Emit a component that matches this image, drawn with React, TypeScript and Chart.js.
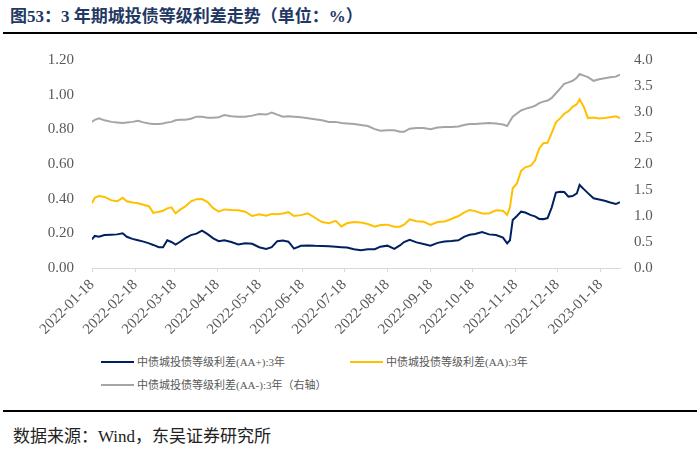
import React, { useEffect, useRef } from "react";
import { Chart, registerables } from "chart.js";

Chart.register(...registerables);

const dates = [
  "2022-01-18", "2022-01-20", "2022-01-23", "2022-01-27", "2022-02-01", "2022-02-05", "2022-02-09", "2022-02-12",
  "2022-02-16", "2022-02-20", "2022-02-24", "2022-02-28", "2022-03-03", "2022-03-07", "2022-03-10", "2022-03-13",
  "2022-03-16", "2022-03-19", "2022-03-22", "2022-03-26", "2022-03-30", "2022-04-03", "2022-04-07", "2022-04-11",
  "2022-04-15", "2022-04-19", "2022-04-23", "2022-04-28", "2022-05-03", "2022-05-08", "2022-05-13", "2022-05-18",
  "2022-05-23", "2022-05-27", "2022-05-31", "2022-06-04", "2022-06-08", "2022-06-12", "2022-06-17", "2022-06-22",
  "2022-06-27", "2022-07-02", "2022-07-07", "2022-07-12", "2022-07-16", "2022-07-20", "2022-07-25", "2022-07-30",
  "2022-08-04", "2022-08-09", "2022-08-13", "2022-08-18", "2022-08-23", "2022-08-27", "2022-08-30", "2022-09-03",
  "2022-09-08", "2022-09-13", "2022-09-18", "2022-09-23", "2022-09-28", "2022-10-03", "2022-10-08", "2022-10-12",
  "2022-10-16", "2022-10-20", "2022-10-25", "2022-10-30", "2022-11-04", "2022-11-09", "2022-11-12", "2022-11-14",
  "2022-11-16", "2022-11-19", "2022-11-22", "2022-11-25", "2022-11-29", "2022-12-02", "2022-12-05", "2022-12-08",
  "2022-12-11", "2022-12-14", "2022-12-17", "2022-12-20", "2022-12-23", "2022-12-26", "2022-12-29", "2023-01-01",
  "2023-01-03", "2023-01-06", "2023-01-09", "2023-01-13", "2023-01-17", "2023-01-21", "2023-01-25", "2023-01-29",
  "2023-02-01",
];

// 中债城投债等级利差(AA+):3年 (left axis)
const aaPlus = [
  0.165, 0.185, 0.18, 0.19, 0.192, 0.194, 0.2, 0.18,
  0.168, 0.16, 0.152, 0.142, 0.133, 0.12, 0.12, 0.16,
  0.15, 0.135, 0.15, 0.172, 0.19, 0.198, 0.215, 0.195,
  0.171, 0.155, 0.16, 0.15, 0.136, 0.143, 0.14, 0.12,
  0.11, 0.12, 0.155, 0.158, 0.152, 0.112, 0.128, 0.13,
  0.128, 0.127, 0.125, 0.122, 0.12, 0.118, 0.108, 0.102,
  0.108, 0.108, 0.123, 0.129, 0.11, 0.13, 0.15, 0.163,
  0.148, 0.138, 0.129, 0.145, 0.153, 0.156, 0.16, 0.18,
  0.192, 0.196, 0.208, 0.194, 0.19, 0.175, 0.142, 0.16,
  0.277, 0.3, 0.325, 0.32, 0.305, 0.298, 0.283, 0.282,
  0.288, 0.35, 0.435, 0.44, 0.438, 0.412, 0.415, 0.43,
  0.479, 0.455, 0.432, 0.402, 0.395, 0.388, 0.378, 0.369,
  0.38,
];

// 中债城投债等级利差(AA):3年 (left axis)
const aa = [
  0.373, 0.405, 0.415, 0.41, 0.39, 0.385, 0.405, 0.385,
  0.378, 0.374, 0.365, 0.355, 0.318, 0.325, 0.33, 0.344,
  0.35, 0.315, 0.335, 0.355, 0.385, 0.397, 0.398, 0.38,
  0.345, 0.325, 0.338, 0.335, 0.333, 0.325, 0.3, 0.31,
  0.302, 0.312, 0.31, 0.315, 0.322, 0.3, 0.305, 0.315,
  0.29, 0.265, 0.258, 0.272, 0.24, 0.258, 0.265, 0.262,
  0.254, 0.238, 0.248, 0.25, 0.238, 0.238, 0.25, 0.28,
  0.27, 0.267, 0.248, 0.265, 0.268, 0.283, 0.3, 0.32,
  0.335, 0.328, 0.315, 0.315, 0.333, 0.33, 0.306, 0.35,
  0.46, 0.488, 0.56, 0.581, 0.59, 0.62, 0.69, 0.72,
  0.722, 0.78, 0.84, 0.863, 0.89, 0.905, 0.93, 0.945,
  0.973, 0.93, 0.865, 0.868, 0.862, 0.865, 0.87, 0.875,
  0.865,
];

// 中债城投债等级利差(AA-):3年 (right axis)
const aaMinus = [
  2.81, 2.85, 2.88, 2.84, 2.81, 2.8, 2.79, 2.8,
  2.81, 2.83, 2.8, 2.78, 2.77, 2.77, 2.78, 2.8,
  2.81, 2.84, 2.85, 2.85, 2.87, 2.91, 2.91, 2.89,
  2.89, 2.9, 2.94, 2.92, 2.91, 2.91, 2.93, 2.96,
  2.95, 2.99, 2.95, 2.91, 2.92, 2.91, 2.9, 2.88,
  2.86, 2.84, 2.81, 2.81, 2.79, 2.78, 2.77, 2.75,
  2.73, 2.67, 2.64, 2.65, 2.65, 2.62, 2.62, 2.68,
  2.69, 2.69, 2.67, 2.7, 2.71, 2.71, 2.72, 2.75,
  2.77, 2.77, 2.78, 2.79, 2.78, 2.76, 2.73, 2.82,
  2.91, 2.97, 3.03, 3.06, 3.09, 3.12, 3.17, 3.2,
  3.22, 3.27, 3.36, 3.45, 3.54, 3.57, 3.6, 3.66,
  3.73, 3.7, 3.67, 3.6, 3.63, 3.65, 3.67, 3.68,
  3.72,
];

const tickDates = [
  "2022-01-18", "2022-02-18", "2022-03-18", "2022-04-18", "2022-05-18", "2022-06-18", "2022-07-18",
  "2022-08-18", "2022-09-18", "2022-10-18", "2022-11-18", "2022-12-18", "2023-01-18",
];

const seriesNames = [
  "中债城投债等级利差(AA+):3年",
  "中债城投债等级利差(AA):3年",
  "中债城投债等级利差(AA-):3年（右轴）",
];
const seriesColors = ["#002060", "#FFC000", "#A5A5A5"];

const titleText = "图53：3 年期城投债等级利差走势（单位：%）";
const sourceText = "数据来源：Wind，东吴证券研究所";

const START = Date.UTC(2022, 0, 18);
function dayOf(s: string): number {
  const [y, m, d] = s.split("-").map(Number);
  return Math.round((Date.UTC(y, m - 1, d) - START) / 86400000);
}

const SERIF = "'Liberation Serif', 'Times New Roman', 'Noto Sans CJK SC', serif";
const CJK = "'Liberation Serif', 'Noto Sans CJK SC', serif";

function ChartBox() {
  const ref = useRef<HTMLCanvasElement | null>(null);
  useEffect(() => {
    if (!ref.current) return;
    const mk = (vals: number[]) => dates.map((d, i) => ({ x: dayOf(d), y: vals[i] }));
    const chart = new Chart(ref.current, {
      type: "line",
      data: {
        datasets: [
          { label: seriesNames[2], data: mk(aaMinus), yAxisID: "y1", borderColor: seriesColors[2], borderWidth: 2, pointRadius: 0, tension: 0 },
          { label: seriesNames[1], data: mk(aa), yAxisID: "y", borderColor: seriesColors[1], borderWidth: 2, pointRadius: 0, tension: 0 },
          { label: seriesNames[0], data: mk(aaPlus), yAxisID: "y", borderColor: seriesColors[0], borderWidth: 2, pointRadius: 0, tension: 0 },
        ],
      },
      options: {
        responsive: false,
        animation: false,
        devicePixelRatio: 1,
        layout: { padding: { top: 60, left: 0, right: 0, bottom: 0 } },
        plugins: { legend: { display: false }, tooltip: { enabled: false }, title: { display: false } },
        scales: {
          x: {
            type: "linear",
            min: 0,
            max: dayOf(dates[dates.length - 1]),
            afterBuildTicks: (scale: any) => {
              scale.ticks = tickDates.map((d) => ({ value: dayOf(d) }));
            },
            afterFit: (scale: any) => {
              scale.height = 77;
            },
            ticks: {
              autoSkip: false,
              minRotation: 45,
              maxRotation: 45,
              padding: 4,
              color: "#595959",
              font: { family: SERIF, size: 15 },
              callback: (_v: any, i: number) => tickDates[i],
            },
            grid: { display: true, drawOnChartArea: false, drawTicks: true, tickLength: 4, color: "#D9D9D9" },
            border: { display: true, color: "#D9D9D9", width: 1 },
          },
          y: {
            position: "left",
            min: 0,
            max: 1.2,
            afterFit: (scale: any) => {
              scale.width = 92;
            },
            ticks: {
              stepSize: 0.2,
              padding: 18,
              color: "#595959",
              font: { family: SERIF, size: 15 },
              callback: (v: any) => Number(v).toFixed(2),
            },
            grid: { display: false, drawTicks: false },
            border: { display: false },
          },
          y1: {
            position: "right",
            min: 0,
            max: 4,
            afterFit: (scale: any) => {
              scale.width = 80;
            },
            ticks: {
              stepSize: 0.5,
              padding: 14,
              color: "#595959",
              font: { family: SERIF, size: 15 },
              callback: (v: any) => Number(v).toFixed(1),
            },
            grid: { display: false, drawTicks: false },
            border: { display: false },
          },
        },
      },
    } as any);
    return () => chart.destroy();
  }, []);
  return (
    <canvas
      ref={ref}
      width={700}
      height={345}
      style={{ position: "absolute", left: 0, top: 0, width: 700, height: 345 }}
    />
  );
}

function LegendItem({ x, y, color, text }: { x: number; y: number; color: string; text: string }) {
  return (
    <div style={{ position: "absolute", left: x, top: y - 8, height: 16, display: "flex", alignItems: "center" }}>
      <div style={{ width: 33, height: 2, background: color, marginRight: 3 }} />
      <span style={{ fontFamily: CJK, fontSize: 11, color: "#595959", whiteSpace: "nowrap", lineHeight: "16px" }}>{text}</span>
    </div>
  );
}

export default function App() {
  useEffect(() => {
    document.body.style.margin = "0";
    document.body.style.background = "#ffffff";
  }, []);
  return (
    <div style={{ position: "relative", width: 700, height: 453, background: "#fff", overflow: "hidden" }}>
      <div
        style={{
          position: "absolute",
          left: 10,
          top: 5,
          fontFamily: CJK,
          fontWeight: "bold",
          fontSize: 17,
          color: "#1F3864",
          whiteSpace: "nowrap",
          lineHeight: "24px",
        }}
      >
        {titleText}
      </div>
      <div style={{ position: "absolute", left: 3, top: 32, width: 694, height: 2, background: "#000" }} />
      <ChartBox />
      <LegendItem x={101} y={362} color={seriesColors[0]} text={seriesNames[0]} />
      <LegendItem x={350} y={362} color={seriesColors[1]} text={seriesNames[1]} />
      <LegendItem x={101} y={385} color={seriesColors[2]} text={seriesNames[2]} />
      <div style={{ position: "absolute", left: 3, top: 410, width: 694, height: 2, background: "#000" }} />
      <div
        style={{
          position: "absolute",
          left: 13,
          top: 425,
          fontFamily: CJK,
          fontSize: 17,
          color: "#222",
          whiteSpace: "nowrap",
          lineHeight: "24px",
        }}
      >
        {sourceText}
      </div>
    </div>
  );
}
